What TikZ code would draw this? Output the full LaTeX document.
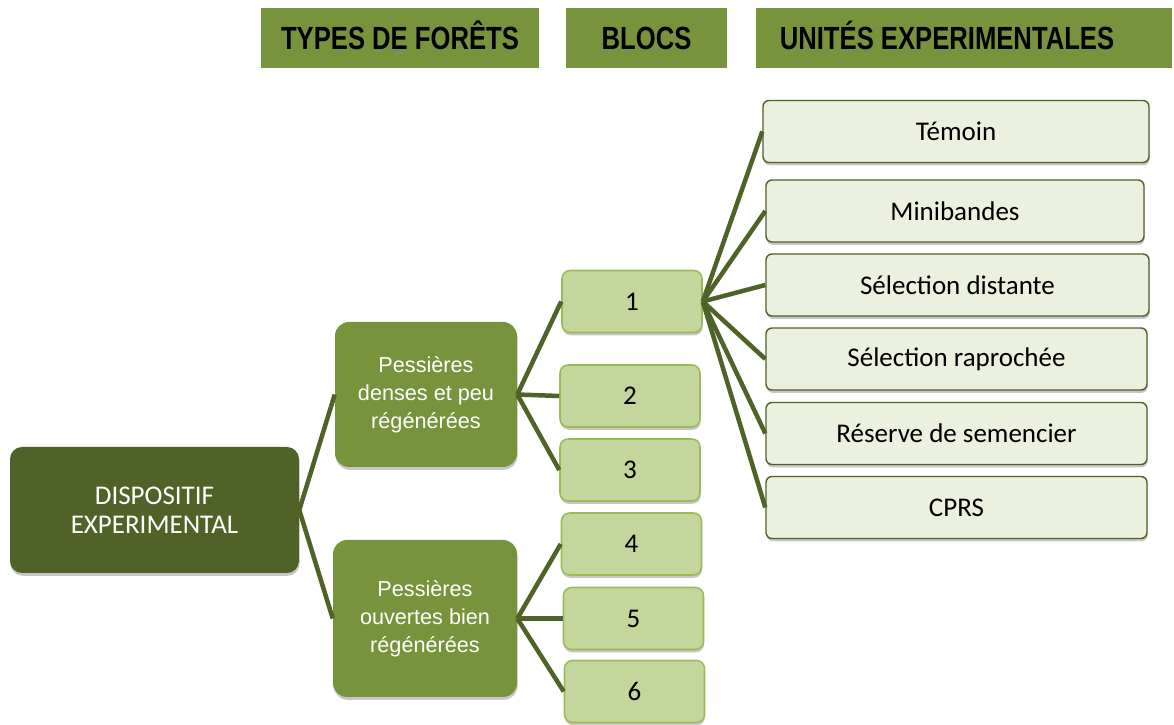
\documentclass[tikz,border=0pt]{standalone}
\usepackage{fontspec}
\setmainfont{Carlito}
\newfontfamily\arialfont{Liberation Sans}
\newfontfamily\headfont[FakeStretch=0.8]{Liberation Sans}
\usetikzlibrary{shadows}
\definecolor{olivedark}{HTML}{4F6228}
\definecolor{olivemid}{HTML}{77933C}
\definecolor{olivelight}{HTML}{C3D69B}
\definecolor{oliveline}{HTML}{9BBB59}
\definecolor{olivepale}{HTML}{EBF1DE}
\tikzset{
  boxshadow/.style={drop shadow={shadow xshift=0.4pt,shadow yshift=-2pt,opacity=0.22,fill=black}}
}
\begin{document}
\begin{tikzpicture}
  \useasboundingbox (0,0) rectangle (29.35,18.125);
  % column titles
  \begin{scope}[every node/.style={fill=olivemid,minimum height=1.5cm,inner sep=0pt,
      text height=16.3pt,text depth=0pt,font=\headfont\bfseries\fontsize{22.8}{24}\selectfont}]
  \node[minimum width=6.95cm] (htype) at (10.0,17.175) {TYPES DE FORÊTS};
  \node[minimum width=4.025cm] (hbloc) at (16.1625,17.175) {BLOCS};
  \node[minimum width=10.4cm] (hunit) at (24.1,17.175) {UNITÉS EXPERIMENTALES\hspace*{0.85cm}};
  \end{scope}
  % root and forest types
  \node[fill=olivedark,rounded corners=0.3cm,boxshadow,minimum width=7.225cm,minimum height=3.15cm,
    align=center,text=white,font=\fontsize{19.2}{20.5}\selectfont] (root) at (3.8625,5.375)
    {DISPOSITIF\\EXPERIMENTAL};
  \begin{scope}[every node/.style={fill=olivemid,rounded corners=0.35cm,boxshadow,align=center,
      text=white,font=\arialfont\fontsize{15.4}{20}\selectfont}]
  \node[minimum width=4.55cm,minimum height=3.625cm] (dense) at (10.65,8.2625)
    {Pessières\\denses et peu\\régénérées};
  \node[minimum width=4.6cm,minimum height=3.925cm] (open) at (10.625,2.6625)
    {Pessières\\ouvertes bien\\régénérées};
  \end{scope}
  % blocks
  \begin{scope}[every node/.style={fill=olivelight,draw=oliveline,line width=1.1pt,rounded corners=0.2cm,
      boxshadow,minimum width=3.5cm,minimum height=1.55cm,font=\fontsize{19.2}{20}\selectfont}]
  \node (b1) at (15.8,10.5875) {1};
  \node (b2) at (15.75,8.225) {2};
  \node (b3) at (15.75,6.375) {3};
  \node (b4) at (15.7875,4.525) {4};
  \node (b5) at (15.8375,2.6625) {5};
  \node (b6) at (15.8625,0.8375) {6};
  \end{scope}
  % experimental units
  \begin{scope}[every node/.style={fill=olivepale,draw=olivedark,line width=1pt,rounded corners=0.15cm,
      boxshadow,minimum height=1.55cm,font=\fontsize{19.2}{20}\selectfont}]
  \node[minimum width=9.65cm] (temoin) at (23.9,14.8375) {Témoin};
  \node[minimum width=9.45cm] (mini) at (23.875,12.85) {Minibandes};
  \node[minimum width=9.575cm] (seldist) at (23.9375,11.0) {Sélection distante};
  \node[minimum width=9.525cm] (selrap) at (23.9125,9.15) {Sélection raprochée};
  \node[minimum width=9.525cm] (reserve) at (23.9125,7.2875) {Réserve de semencier};
  \node[minimum width=9.525cm] (cprs) at (23.9125,5.4375) {CPRS};
  \end{scope}
  % connectors
  \begin{scope}[every edge/.style={draw=olivedark,line width=3.2pt}]
  \path (root.east) edge (dense.west);
  \path (root.east) edge (open.west);
  \path (dense.east) edge (b1.west);
  \path (dense.east) edge (b2.west);
  \path (dense.east) edge (b3.west);
  \path (open.east) edge (b4.west);
  \path (open.east) edge (b5.west);
  \path (open.east) edge (b6.west);
  \path (b1.east) edge (temoin.west);
  \path (b1.east) edge (mini.west);
  \path (b1.east) edge (seldist.west);
  \path (b1.east) edge (selrap.west);
  \path (b1.east) edge (reserve.west);
  \path (b1.east) edge (cprs.west);
  \end{scope}
\end{tikzpicture}
\end{document}
